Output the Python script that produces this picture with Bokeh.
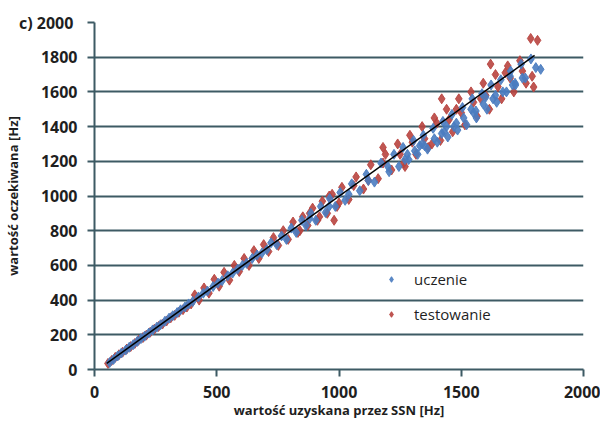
from bokeh.plotting import figure
from bokeh.models import Range1d, Legend, LegendItem, FixedTicker
from bokeh.embed import file_html
from bokeh.resources import INLINE

blue_x = [62,78,95,110,128,142,158,175,190,205,222,238,255,270,288,305,320,338,352,370,385,402,425,445,462,485,505,522,545,565,585,605,622,645,665,685,
          705,722,745,765,785,805,825,848,865,885,905,925,945,962,985,1005,1025,1052,1085,1112,1145,1172,1205,1225,1245,1262,1285,1305,1322,1345,1362,1385,1402,1425,1445,1462,1485,1505,1522,1545,1562,1585,1605,1622,1645,1662,1685,1702,1722,1745,1762,1785,1805,1825,
          1270,1310,1350,1390,1430,1470,1510,1550,1590,1630,1670,1710,1750,1280,1330,1420,1480,1560,1640,1720,880,960,1040,1120,1200,1340,1440,1540,1600,1700]
blue_y = [40,58,78,95,112,128,143,162,178,192,210,228,244,258,278,296,310,328,344,360,378,392,418,440,452,478,498,512,540,556,578,600,612,640,660,672,
          690,730,720,770,750,815,790,860,830,900,860,940,905,985,940,1020,975,1070,1030,1125,1080,1190,1140,1240,1170,1280,1210,1320,1240,1350,1270,1390,1310,1430,1340,1470,1380,1510,1410,1560,1450,1590,1500,1640,1540,1670,1600,1720,1640,1760,1680,1790,1740,1730,
          1210,1260,1290,1330,1370,1400,1450,1480,1530,1560,1600,1640,1680,1240,1290,1360,1420,1490,1580,1650,870,940,1010,1090,1170,1300,1400,1500,1570,1690]

red_x = [55,70,85,100,115,132,148,165,180,198,212,228,245,262,278,295,312,328,345,362,378,395,410,428,448,468,490,510,530,552,572,592,612,632,652,672,692,712,732,752,772,792,812,832,852,872,892,912,932,952,972,992,1012,1040,1070,1100,1130,1160,1190,1215,1240,1265,1290,1315,1340,1365,1390,1415,1440,1465,1490,1515,1540,1565,1590,1615,1640,1665,1690,1715,1740,1765,1790,
         840,880,920,960,1000,1060,1120,1180,1250,1300,1350,1400,1450,1500,1550,1600,1650,1700,1750,1784,1812,1796,1270,1380,1480,1580,1680,980,1180,1420,1620]
red_y = [35,52,70,85,100,118,132,150,168,184,198,215,232,248,262,280,298,312,330,345,360,378,430,400,470,440,520,480,560,515,600,565,640,600,685,640,720,680,760,715,800,750,850,790,880,830,930,860,970,900,1010,940,1050,980,1110,1040,1180,1100,1240,1150,1300,1190,1350,1240,1400,1280,1450,1320,1500,1370,1560,1410,1600,1460,1650,1500,1700,1560,1750,1600,1780,1650,1690,
         800,900,880,1000,960,1060,1090,1190,1240,1310,1330,1420,1440,1480,1540,1580,1630,1680,1720,1908,1897,1628,1170,1300,1500,1560,1710,860,1280,1560,1760]

line_x = [50, 1800]
line_y = [35, 1810]

x_ticks = [0, 500, 1000, 1500, 2000]
y_ticks = [0, 200, 400, 600, 800, 1000, 1200, 1400, 1600, 1800, 2000]
panel_tag = "c)"

FONT = "Open Sans"
TXT = "#1f1f1f"
GRID = "#3d5a64"

p = figure(width=600, height=421, output_backend="svg", toolbar_location=None,
           x_range=Range1d(0, 2000), y_range=Range1d(0, 2000),
           min_border_left=93, min_border_right=17, min_border_top=22, min_border_bottom=50)
p.outline_line_color = None
p.background_fill_color = "white"

p.xaxis.ticker = FixedTicker(ticks=x_ticks)
p.yaxis.ticker = FixedTicker(ticks=y_ticks)
p.yaxis.major_label_overrides = {2000: panel_tag + "  2000"}
p.xgrid.grid_line_color = None
p.ygrid.grid_line_color = GRID
p.ygrid.grid_line_width = 2

for ax in (p.xaxis, p.yaxis):
    ax.axis_line_color = GRID
    ax.axis_line_width = 2
    ax.major_tick_line_color = GRID
    ax.major_tick_line_width = 2
    ax.major_tick_in = 0
    ax.major_tick_out = 7
    ax.minor_tick_line_color = None
    ax.major_label_text_font = FONT
    ax.major_label_text_font_style = "bold"
    ax.major_label_text_font_size = "16px"
    ax.major_label_text_color = TXT
    ax.axis_label_text_font = FONT
    ax.axis_label_text_font_style = "bold"
    ax.axis_label_text_font_size = "13px"
    ax.axis_label_text_color = TXT

p.xaxis.major_label_standoff = 9
p.yaxis.major_label_standoff = 10
p.xaxis.axis_label = "wartość uzyskana przez SSN [Hz]"
p.yaxis.axis_label = "wartość oczekiwana [Hz]"
p.xaxis.axis_label_standoff = 0
p.yaxis.axis_label_standoff = -6

rb = p.scatter(red_x, red_y, marker="diamond", size=10, color="#b8443f", alpha=0.9)
bb = p.scatter(blue_x, blue_y, marker="diamond", size=10, color="#4a7cc0", alpha=0.9)
p.line(line_x, line_y, line_color="black", line_width=1.5)

legend = Legend(items=[LegendItem(label="uczenie", renderers=[bb]),
                       LegendItem(label="testowanie", renderers=[rb])],
                location=(290, 45), padding=0, margin=0, spacing=15,
                glyph_width=14, glyph_height=20, label_height=20, label_standoff=16,
                border_line_color=None, background_fill_alpha=0,
                label_text_font=FONT, label_text_font_size="15px", label_text_color=TXT)
p.add_layout(legend, "center")

html = file_html(p, INLINE)
open("out.html", "w").write(html)
